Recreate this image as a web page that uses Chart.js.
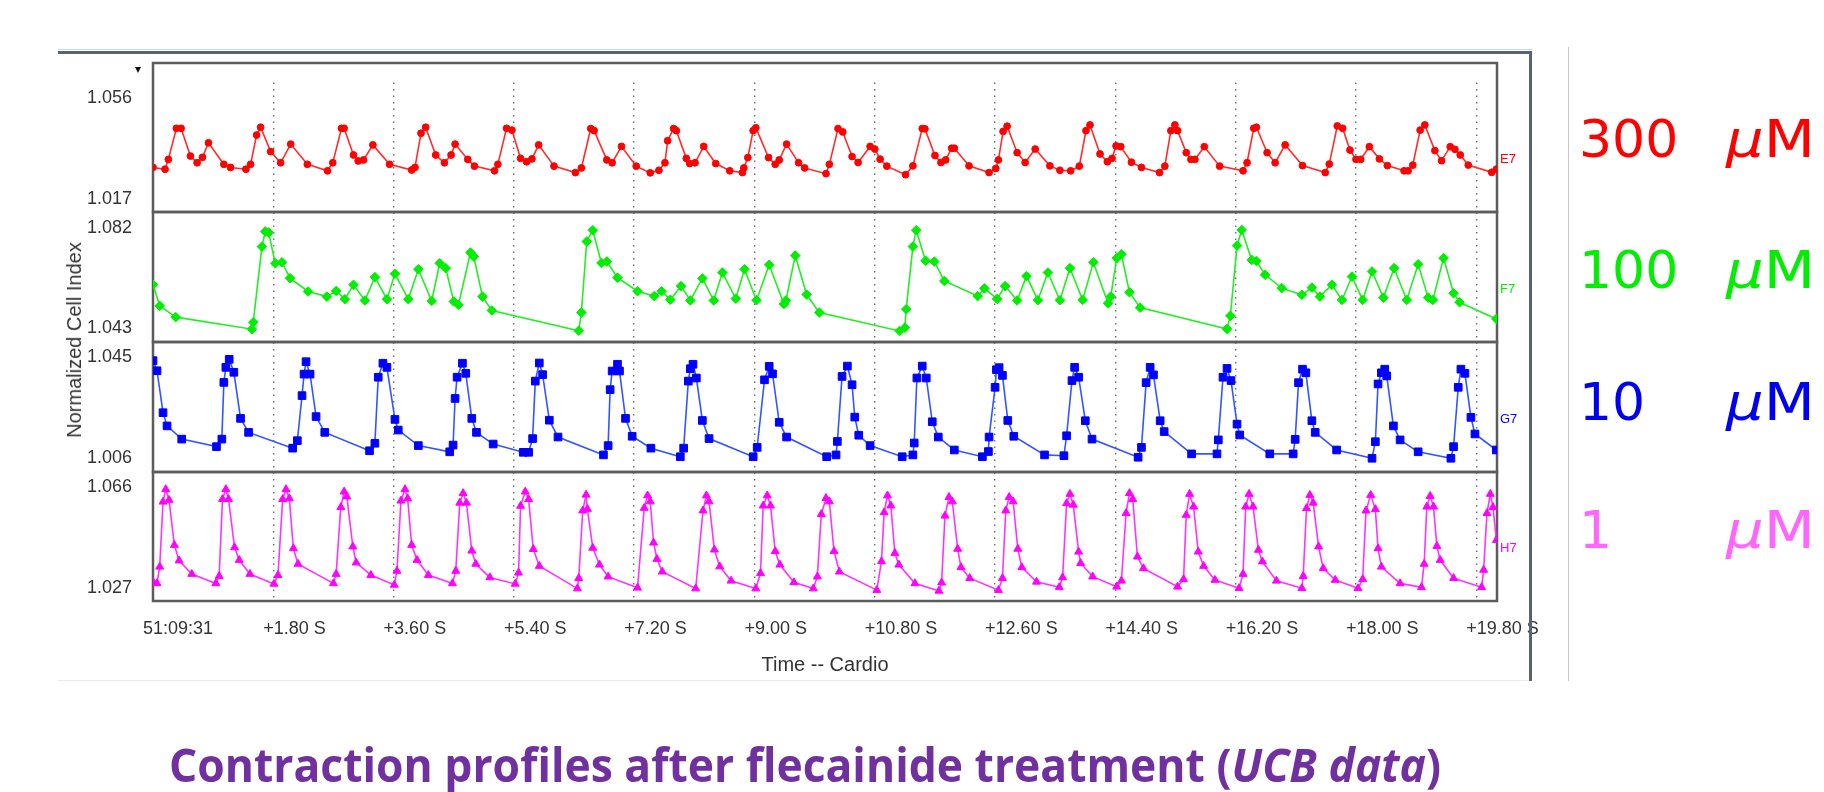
<!DOCTYPE html>
<html>
<head>
<meta charset="utf-8">
<title>Contraction profiles after flecainide treatment</title>
<script src="https://cdn.jsdelivr.net/npm/chart.js@4.4.1/dist/chart.umd.min.js"></script>
<style>
  html, body { margin: 0; padding: 0; background: #fff; }
  body { position: relative; width: 1824px; height: 792px; overflow: hidden; font-family: 'Liberation Sans', Arial, sans-serif; color: #333; }
  #plot { position: absolute; left: 0; top: 0; width: 1824px; height: 792px; }
  .rule { position: absolute; }
  .txt { position: absolute; white-space: nowrap; line-height: 1; }
  .dose { position: absolute; white-space: nowrap; line-height: 1; font-family: 'DejaVu Sans', sans-serif; font-size: 52px; transform-origin: left center; }
  #caption { position: absolute; left: 805px; top: 741px; white-space: nowrap; line-height: 1; font-family: 'Open Sans', sans-serif; font-weight: 700; font-size: 46px; color: #7030a0; transform-origin: center; }
</style>
</head>
<body>
<div id="plot"><canvas id="cardio"></canvas></div>

<!-- window frame of the instrument screenshot -->
<div class="rule" style="left:58px;top:49px;width:1474px;height:1px;background:#c5d9ee"></div>
<div class="rule" style="left:58px;top:51px;width:1474px;height:3px;background:#5b646c"></div>
<div class="rule" style="left:1529px;top:51px;width:3px;height:630px;background:#5b646c"></div>
<div class="rule" style="left:58px;top:680px;width:1471px;height:1px;background:#ebebeb"></div>
<div class="rule" style="left:1568px;top:47px;width:1px;height:634px;background:#c8c8c8"></div>
<div class="rule" style="left:135px;top:67px;width:0;height:0;border-left:3.5px solid transparent;border-right:3.5px solid transparent;border-top:6px solid #111"></div>

<div class="txt" style="left:74px;top:340px;font-size:20px;transform:translate(-50%,-50%) rotate(-90deg)">Normalized Cell Index</div>
<div class="txt" style="left:825px;top:654px;font-size:20px;transform:translateX(-50%)">Time -- Cardio</div>
<div id="legend"></div>
<div id="caption">Contraction profiles after flecainide treatment (<i>UCB data</i>)</div>

<script>
// x axis: seconds after 51:09:31
const timeTicks = [0, 1.8, 3.6, 5.4, 7.2, 9.0, 10.8, 12.6, 14.4, 16.2, 18.0, 19.8];
const timeLabels = ['51:09:31', '+1.80 S', '+3.60 S', '+5.40 S', '+7.20 S', '+9.00 S',
  '+10.80 S', '+12.60 S', '+14.40 S', '+16.20 S', '+18.00 S', '+19.80 S'];

const wells = ['E7', 'F7', 'G7', 'H7'];
const doses = ['300', '100', '10', '1'];

const e7Ticks = [1.017, 1.056];
const f7Ticks = [1.043, 1.082];
const g7Ticks = [1.006, 1.045];
const h7Ticks = [1.027, 1.066];

// E7 - 300 uM
const e7Time = [0.00, 0.18, 0.23, 0.35, 0.42, 0.56, 0.66, 0.74, 0.83, 1.06, 1.16, 1.39, 1.46, 1.55, 1.61,
  1.76, 1.91, 2.06, 2.31, 2.61, 2.69, 2.82, 2.86, 3.00, 3.07, 3.15, 3.29, 3.54, 3.87, 3.92,
  4.01, 4.08, 4.23, 4.36, 4.46, 4.52, 4.71, 4.81, 5.11, 5.16, 5.29, 5.37, 5.50, 5.59, 5.67,
  5.77, 6.00, 6.32, 6.41, 6.55, 6.60, 6.79, 6.87, 7.01, 7.23, 7.44, 7.57, 7.66, 7.70, 7.79,
  7.83, 7.98, 8.03, 8.11, 8.24, 8.42, 8.63, 8.82, 8.84, 8.90, 8.98, 9.02, 9.21, 9.31, 9.37,
  9.48, 9.66, 9.75, 10.07, 10.12, 10.25, 10.32, 10.46, 10.55, 10.73, 10.80, 10.88, 10.98, 11.26, 11.37,
  11.51, 11.55, 11.70, 11.79, 11.86, 11.95, 11.99, 12.21, 12.51, 12.61, 12.65, 12.72, 12.78, 12.93, 13.05,
  13.20, 13.42, 13.57, 13.73, 13.86, 13.96, 14.02, 14.17, 14.28, 14.35, 14.41, 14.48, 14.64, 14.79, 15.06,
  15.14, 15.23, 15.29, 15.33, 15.46, 15.53, 15.59, 15.73, 15.96, 16.31, 16.37, 16.47, 16.51, 16.67, 16.79,
  16.94, 17.20, 17.54, 17.60, 17.72, 17.80, 17.91, 18.00, 18.07, 18.20, 18.35, 18.47, 18.72, 18.78, 18.85,
  18.96, 19.03, 19.18, 19.28, 19.41, 19.48, 19.56, 19.68, 20.03, 20.10];
const e7Index = [1.0292, 1.0285, 1.0323, 1.0443, 1.0443, 1.0336, 1.0310, 1.0331, 1.0387, 1.0304, 1.0292, 1.0285, 1.0304, 1.0417, 1.0447,
  1.0353, 1.0310, 1.0382, 1.0304, 1.0279, 1.0310, 1.0443, 1.0443, 1.0340, 1.0317, 1.0321, 1.0379, 1.0304, 1.0282, 1.0292,
  1.0424, 1.0447, 1.0340, 1.0310, 1.0340, 1.0382, 1.0323, 1.0297, 1.0279, 1.0304, 1.0443, 1.0436, 1.0327, 1.0314, 1.0325,
  1.0379, 1.0297, 1.0272, 1.0290, 1.0442, 1.0434, 1.0321, 1.0310, 1.0373, 1.0297, 1.0271, 1.0281, 1.0310, 1.0395, 1.0442,
  1.0434, 1.0327, 1.0307, 1.0310, 1.0373, 1.0307, 1.0279, 1.0272, 1.0290, 1.0330, 1.0434, 1.0445, 1.0330, 1.0304, 1.0321,
  1.0382, 1.0310, 1.0290, 1.0268, 1.0304, 1.0442, 1.0429, 1.0334, 1.0311, 1.0373, 1.0363, 1.0324, 1.0297, 1.0264, 1.0298,
  1.0442, 1.0441, 1.0338, 1.0311, 1.0321, 1.0366, 1.0366, 1.0298, 1.0272, 1.0288, 1.0321, 1.0431, 1.0451, 1.0349, 1.0311,
  1.0363, 1.0298, 1.0281, 1.0279, 1.0297, 1.0434, 1.0456, 1.0344, 1.0314, 1.0327, 1.0375, 1.0372, 1.0312, 1.0292, 1.0272,
  1.0297, 1.0434, 1.0456, 1.0434, 1.0349, 1.0323, 1.0323, 1.0372, 1.0297, 1.0279, 1.0310, 1.0443, 1.0447, 1.0349, 1.0310,
  1.0379, 1.0299, 1.0272, 1.0305, 1.0452, 1.0443, 1.0359, 1.0323, 1.0323, 1.0372, 1.0325, 1.0299, 1.0279, 1.0279, 1.0301,
  1.0436, 1.0456, 1.0357, 1.0318, 1.0372, 1.0362, 1.0340, 1.0301, 1.0273, 1.0285];

// F7 - 100 uM
const f7Time = [0.00, 0.10, 0.34, 1.48, 1.50, 1.63, 1.68, 1.73, 1.83, 1.93, 2.05, 2.32, 2.60, 2.74, 2.87,
  3.00, 3.17, 3.32, 3.50, 3.62, 3.82, 3.97, 4.17, 4.29, 4.38, 4.50, 4.57, 4.75, 4.80, 4.93, 5.07,
  6.37, 6.41, 6.49, 6.58, 6.71, 6.79, 6.95, 7.25, 7.50, 7.61, 7.74, 7.90, 8.04, 8.22, 8.39,
  8.52, 8.72, 8.85, 9.03, 9.22, 9.44, 9.47, 9.61, 9.78, 9.97, 11.17, 11.25, 11.27, 11.37, 11.42,
  11.56, 11.69, 11.84, 12.34, 12.44, 12.63, 12.75, 12.93, 13.07, 13.24, 13.39, 13.57,
  13.72, 13.91, 14.07, 14.29, 14.33, 14.42, 14.49, 14.61, 14.77, 16.07, 16.12, 16.22, 16.29, 16.44, 16.51,
  16.64, 16.89, 17.19, 17.34, 17.46, 17.64, 17.79, 17.94, 18.10, 18.24, 18.41, 18.57, 18.76, 18.93, 19.08,
  19.15, 19.31, 19.46, 19.55, 20.10];
const f7Index = [1.0598, 1.0516, 1.0472, 1.0425, 1.0452, 1.0747, 1.0806, 1.0802, 1.0682, 1.0686, 1.0624, 1.0572, 1.0552, 1.0574, 1.0542,
  1.0598, 1.0537, 1.0628, 1.0542, 1.0641, 1.0542, 1.0659, 1.0535, 1.0682, 1.0663, 1.0533, 1.0520, 1.0724, 1.0708, 1.0552, 1.0498,
  1.0419, 1.0490, 1.0767, 1.0811, 1.0683, 1.0689, 1.0626, 1.0573, 1.0554, 1.0573, 1.0540, 1.0593, 1.0537, 1.0623, 1.0537,
  1.0646, 1.0544, 1.0659, 1.0538, 1.0676, 1.0523, 1.0537, 1.0712, 1.0560, 1.0490, 1.0418, 1.0431, 1.0503, 1.0747, 1.0811,
  1.0692, 1.0689, 1.0613, 1.0554, 1.0584, 1.0543, 1.0593, 1.0537, 1.0632, 1.0538, 1.0646, 1.0538,
  1.0663, 1.0539, 1.0686, 1.0526, 1.0552, 1.0702, 1.0717, 1.0569, 1.0509, 1.0426, 1.0477, 1.0751, 1.0812, 1.0695, 1.0691,
  1.0637, 1.0585, 1.0559, 1.0587, 1.0552, 1.0598, 1.0539, 1.0630, 1.0539, 1.0650, 1.0548, 1.0663, 1.0539, 1.0678, 1.0548,
  1.0539, 1.0702, 1.0565, 1.0530, 1.0465];

// G7 - 10 uM
const g7Time = [0.00, 0.06, 0.15, 0.21, 0.43, 0.95, 1.03, 1.06, 1.09, 1.14, 1.21, 1.31, 1.43, 2.09, 2.16,
  2.23, 2.26, 2.29, 2.35, 2.44, 2.57, 3.24, 3.32, 3.37, 3.44, 3.50, 3.62, 3.67, 3.97, 4.44,
  4.49, 4.52, 4.55, 4.63, 4.68, 4.77, 4.84, 5.09, 5.54, 5.62, 5.68, 5.72, 5.78, 5.83, 5.93,
  6.06, 6.74, 6.81, 6.84, 6.87, 6.95, 6.98, 7.07, 7.17, 7.45, 7.89, 7.94, 8.01, 8.04, 8.08,
  8.13, 8.22, 8.32, 8.98, 9.04, 9.15, 9.22, 9.27, 9.37, 9.48, 10.08, 10.22, 10.24, 10.31, 10.39,
  10.46, 10.50, 10.56, 10.73, 11.21, 11.37, 11.39, 11.43, 11.51, 11.57, 11.66, 11.75, 11.99, 12.41, 12.50,
  12.51, 12.60, 12.62, 12.66, 12.71, 12.79, 12.88, 13.34, 13.63, 13.67, 13.75, 13.79, 13.85, 13.95, 14.05,
  14.74, 14.79, 14.86, 14.92, 14.97, 15.07, 15.13, 15.54, 15.92, 15.94, 16.01, 16.07, 16.13, 16.22, 16.26,
  16.71, 17.06, 17.09, 17.14, 17.20, 17.25, 17.34, 17.39, 17.71, 18.24, 18.29, 18.33, 18.38, 18.43, 18.46,
  18.56, 18.66, 18.93, 19.42, 19.46, 19.53, 19.57, 19.63, 19.72, 19.78, 20.10];
const g7Index = [1.0436, 1.0397, 1.0235, 1.0184, 1.0133, 1.0104, 1.0133, 1.0352, 1.0410, 1.0441, 1.0391, 1.0213, 1.0159, 1.0098, 1.0127,
  1.0301, 1.0384, 1.0432, 1.0384, 1.0220, 1.0159, 1.0088, 1.0117, 1.0372, 1.0426, 1.0410, 1.0209, 1.0168, 1.0108, 1.0084,
  1.0110, 1.0290, 1.0372, 1.0426, 1.0387, 1.0213, 1.0159, 1.0114, 1.0082, 1.0082, 1.0135, 1.0357, 1.0427, 1.0382, 1.0206,
  1.0141, 1.0072, 1.0108, 1.0324, 1.0396, 1.0422, 1.0396, 1.0213, 1.0144, 1.0098, 1.0065, 1.0098, 1.0357, 1.0405, 1.0422,
  1.0369, 1.0205, 1.0135, 1.0065, 1.0101, 1.0362, 1.0414, 1.0385, 1.0198, 1.0141, 1.0065, 1.0072, 1.0124, 1.0375, 1.0415,
  1.0343, 1.0218, 1.0148, 1.0108, 1.0065, 1.0072, 1.0118, 1.0369, 1.0415, 1.0369, 1.0200, 1.0141, 1.0091, 1.0065, 1.0085,
  1.0141, 1.0333, 1.0401, 1.0409, 1.0379, 1.0205, 1.0144, 1.0072, 1.0069, 1.0146, 1.0359, 1.0410, 1.0372, 1.0204, 1.0133,
  1.0063, 1.0101, 1.0351, 1.0410, 1.0381, 1.0204, 1.0162, 1.0076, 1.0076, 1.0130, 1.0372, 1.0406, 1.0359, 1.0191, 1.0149,
  1.0076, 1.0076, 1.0132, 1.0351, 1.0403, 1.0389, 1.0204, 1.0159, 1.0091, 1.0059, 1.0123, 1.0346, 1.0389, 1.0403, 1.0377,
  1.0184, 1.0130, 1.0084, 1.0059, 1.0104, 1.0333, 1.0403, 1.0387, 1.0217, 1.0153, 1.0091];

// H7 - 1 uM
const h7Time = [0.00, 0.06, 0.10, 0.15, 0.19, 0.24, 0.32, 0.39, 0.58, 0.94, 0.99, 1.04, 1.09, 1.13, 1.22,
  1.29, 1.45, 1.81, 1.87, 1.94, 1.99, 2.04, 2.10, 2.17, 2.70, 2.74, 2.81, 2.86, 2.90, 2.99,
  3.04, 3.26, 3.61, 3.65, 3.71, 3.77, 3.81, 3.87, 3.95, 4.12, 4.48, 4.53, 4.59, 4.64, 4.69,
  4.77, 4.83, 5.04, 5.42, 5.47, 5.50, 5.57, 5.62, 5.69, 5.78, 6.35, 6.37, 6.43, 6.48, 6.50,
  6.58, 6.68, 6.81, 7.25, 7.35, 7.40, 7.44, 7.49, 7.54, 7.62, 8.12, 8.23, 8.28, 8.32, 8.40,
  8.48, 8.65, 9.02, 9.09, 9.13, 9.19, 9.24, 9.31, 9.38, 9.59, 9.88, 9.94, 10.00, 10.07, 10.12,
  10.19, 10.27, 10.83, 10.90, 10.94, 10.99, 11.04, 11.10, 11.16, 11.40, 11.76, 11.80, 11.85, 11.91, 11.96,
  12.04, 12.09, 12.22, 12.65, 12.71, 12.76, 12.81, 12.87, 12.94, 13.00, 13.22, 13.56, 13.61, 13.67, 13.72,
  13.77, 13.85, 13.88, 14.06, 14.42, 14.49, 14.56, 14.61, 14.66, 14.73, 14.82, 15.33, 15.42, 15.46, 15.51,
  15.57, 15.64, 15.72, 15.89, 16.25, 16.31, 16.35, 16.40, 16.46, 16.54, 16.60, 16.81, 17.19, 17.21, 17.26,
  17.31, 17.36, 17.44, 17.51, 17.69, 18.03, 18.10, 18.15, 18.22, 18.29, 18.33, 18.38, 18.66, 18.98, 19.02,
  19.06, 19.11, 19.16, 19.21, 19.26, 19.46, 19.88, 19.91, 19.96, 20.01, 20.05, 20.10];
const h7Index = [1.0294, 1.0288, 1.0352, 1.0603, 1.0651, 1.0610, 1.0436, 1.0376, 1.0324, 1.0288, 1.0316, 1.0613, 1.0651, 1.0613, 1.0427,
  1.0378, 1.0324, 1.0286, 1.0320, 1.0613, 1.0651, 1.0616, 1.0423, 1.0363, 1.0288, 1.0324, 1.0582, 1.0642, 1.0623, 1.0430,
  1.0368, 1.0320, 1.0282, 1.0336, 1.0607, 1.0651, 1.0616, 1.0436, 1.0378, 1.0320, 1.0288, 1.0336, 1.0599, 1.0636, 1.0599,
  1.0414, 1.0363, 1.0311, 1.0286, 1.0329, 1.0587, 1.0642, 1.0613, 1.0420, 1.0355, 1.0268, 1.0308, 1.0569, 1.0630, 1.0575,
  1.0425, 1.0360, 1.0314, 1.0271, 1.0579, 1.0627, 1.0604, 1.0445, 1.0382, 1.0333, 1.0268, 1.0569, 1.0627, 1.0604, 1.0418,
  1.0353, 1.0298, 1.0268, 1.0327, 1.0588, 1.0627, 1.0588, 1.0412, 1.0360, 1.0292, 1.0268, 1.0314, 1.0555, 1.0617, 1.0604,
  1.0412, 1.0333, 1.0262, 1.0373, 1.0562, 1.0627, 1.0588, 1.0405, 1.0360, 1.0288, 1.0259, 1.0291, 1.0549, 1.0621, 1.0604,
  1.0421, 1.0350, 1.0308, 1.0262, 1.0308, 1.0569, 1.0621, 1.0604, 1.0421, 1.0350, 1.0294, 1.0273, 1.0311, 1.0597, 1.0633,
  1.0591, 1.0410, 1.0366, 1.0314, 1.0275, 1.0298, 1.0559, 1.0636, 1.0613, 1.0391, 1.0346, 1.0275, 1.0304, 1.0552, 1.0633,
  1.0584, 1.0410, 1.0355, 1.0301, 1.0269, 1.0324, 1.0584, 1.0633, 1.0584, 1.0417, 1.0372, 1.0298, 1.0269, 1.0316, 1.0578,
  1.0629, 1.0599, 1.0430, 1.0346, 1.0301, 1.0269, 1.0304, 1.0569, 1.0629, 1.0574, 1.0423, 1.0352, 1.0288, 1.0273, 1.0363,
  1.0584, 1.0625, 1.0584, 1.0432, 1.0378, 1.0308, 1.0273, 1.0340, 1.0559, 1.0633, 1.0582, 1.0455];

// one stacked panel per well, top to bottom
const panels = [
  { id: 'yE', time: e7Time, index: e7Index, ticks: e7Ticks, min: 1.0120, max: 1.0695, weight: 149,
    color: '#ff0000', line: '#ff2b2b', dose: '#ff0000', point: 'circle', radius: 3.4 },
  { id: 'yF', time: f7Time, index: f7Index, ticks: f7Ticks, min: 1.0375, max: 1.0882, weight: 130,
    color: '#00ee00', line: '#22ee22', dose: '#00ee00', point: 'rectRot', radius: 4.8 },
  { id: 'yG', time: g7Time, index: g7Index, ticks: g7Ticks, min: 1.0006, max: 1.0508, weight: 130,
    color: '#0000ff', line: '#3355ff', dose: '#0000ee', point: 'rect', radius: 5.4 },
  { id: 'yH', time: h7Time, index: h7Index, ticks: h7Ticks, min: 1.0220, max: 1.0718, weight: 129,
    color: '#ff00ff', line: '#ff33ff', dose: '#ff66ff', point: 'triangle', radius: 4.6 }
];

const tickFont = { family: 'Liberation Sans', size: 18 };

const scales = {
  x: {
    type: 'linear',
    min: 0,
    max: 20.11,
    afterBuildTicks: axis => { axis.ticks = timeTicks.map(value => ({ value })); },
    afterFit: axis => { axis.height = 40; },
    grid: { color: '#6e6e6e', lineWidth: 1.4, drawTicks: false },
    border: { display: false, dash: [1.5, 5] },
    ticks: {
      align: 'start', labelOffset: -10, padding: 17, autoSkip: false, maxRotation: 0,
      color: '#333', font: tickFont,
      callback: (v, i) => timeLabels[i]
    }
  }
};
// left boxes are laid out in reverse order, so add the bottom panel first
[...panels].reverse().forEach(p => {
  scales[p.id] = {
    type: 'linear',
    position: 'left',
    stack: 'wells',
    stackWeight: p.weight,
    min: p.min,
    max: p.max,
    afterBuildTicks: axis => { axis.ticks = p.ticks.map(value => ({ value })); },
    afterFit: axis => { axis.width = 103; },
    grid: { display: false, drawTicks: false },
    border: { display: false },
    ticks: { color: '#333', font: tickFont, padding: 21, callback: v => v.toFixed(3) }
  };
});

const panelFrames = {
  id: 'panelFrames',
  beforeDatasetsDraw(chart) {
    const { ctx, chartArea } = chart;
    const w = chartArea.right - chartArea.left;
    ctx.save();
    // the dotted time lines start a little below the top of the first panel
    ctx.fillStyle = '#fff';
    ctx.fillRect(chartArea.left, chartArea.top, w, 19);
    ctx.strokeStyle = '#5c5c5c';
    ctx.lineWidth = 2.5;
    panels.forEach(p => {
      const s = chart.scales[p.id];
      ctx.strokeRect(chartArea.left, s.top, w, s.bottom - s.top);
    });
    ctx.restore();
  },
  afterDraw(chart) {
    const { ctx, chartArea } = chart;
    ctx.save();
    ctx.font = '13px "Liberation Sans"';
    ctx.textBaseline = 'middle';
    panels.forEach((p, i) => {
      ctx.fillStyle = p.color;
      ctx.fillText(wells[i], chartArea.right + 3, chart.scales[p.id].bottom - 53);
    });
    ctx.restore();
  }
};

new Chart(document.getElementById('cardio'), {
  type: 'line',
  data: {
    datasets: panels.map((p, i) => ({
      label: wells[i],
      yAxisID: p.id,
      data: p.time.map((t, k) => ({ x: t, y: p.index[k] })),
      borderColor: p.line,
      borderWidth: 1.6,
      backgroundColor: p.color,
      pointStyle: p.point,
      pointRadius: p.radius,
      pointBorderWidth: 1,
      pointBackgroundColor: p.color,
      pointBorderColor: p.color,
      tension: 0
    }))
  },
  options: {
    responsive: true,
    maintainAspectRatio: false,
    animation: false,
    events: [],
    layout: { padding: { left: 50, top: 63, right: 327, bottom: 151 } },
    plugins: { legend: { display: false }, tooltip: { enabled: false } },
    scales
  },
  plugins: [panelFrames]
});

// concentration legend on the right
const legendTops = [113, 244, 376, 504];
const legend = document.getElementById('legend');
panels.forEach((p, i) => {
  legend.insertAdjacentHTML('beforeend',
    `<div class="dose" style="left:1579px;top:${legendTops[i]}px;color:${p.dose}">${doses[i]}</div>` +
    `<div class="dose" style="left:1726px;top:${legendTops[i]}px;color:${p.dose};transform:scaleX(1.14)"><i>µ</i>M</div>`);
});

// squeeze the caption to the width of the original
function fitCaption() {
  const cap = document.getElementById('caption');
  cap.style.transform = 'none';
  const w = cap.getBoundingClientRect().width;
  cap.style.transform = `translateX(-50%) scaleX(${1272 / w})`;
}
fitCaption();
document.fonts.ready.then(fitCaption);
</script>
</body>
</html>
